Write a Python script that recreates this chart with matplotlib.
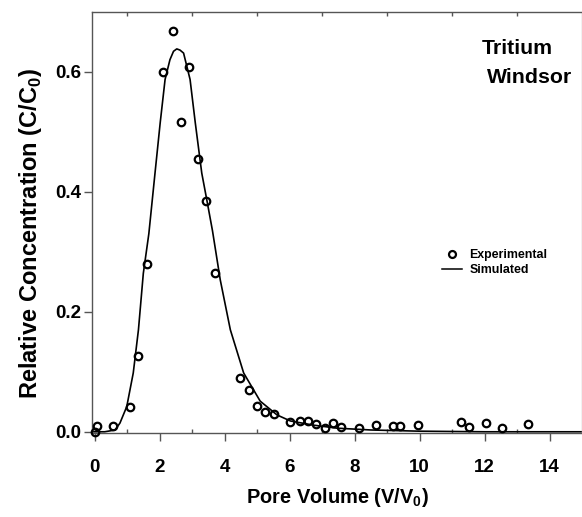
import matplotlib
matplotlib.use("Agg")
import matplotlib.pyplot as plt
from matplotlib import font_manager
from matplotlib.lines import Line2D

# experimental points
exp_x = [0.0, 0.05, 0.57, 1.08, 1.34, 1.61, 2.11, 2.39, 2.65, 2.90, 3.16, 3.43,
         3.70, 4.48, 4.73, 4.99, 5.25, 5.50, 6.02, 6.30, 6.55, 6.81, 7.08, 7.34,
         7.59, 8.13, 8.65, 9.17, 9.41, 9.94, 11.27, 11.52, 12.04, 12.55, 13.33]
exp_y = [0.0, 0.009, 0.009, 0.042, 0.127, 0.279, 0.599, 0.668, 0.516, 0.607, 0.454, 0.384,
         0.264, 0.089, 0.069, 0.043, 0.033, 0.029, 0.017, 0.018, 0.018, 0.013, 0.007, 0.015,
         0.008, 0.007, 0.011, 0.009, 0.009, 0.011, 0.016, 0.008, 0.014, 0.007, 0.013]

# simulated curve
sim_x = [-0.09, 0.3, 0.62, 0.77, 0.98, 1.18, 1.34, 1.49, 1.66, 1.85, 2.01, 2.16, 2.31,
         2.42, 2.52, 2.62, 2.73, 2.93, 3.09, 3.29, 3.45, 3.62, 3.86, 4.17, 4.58, 5.09,
         5.61, 6.02, 6.74, 7.46, 8.5, 10.0, 12.0, 15.0]
sim_y = [0.0, 0.0, 0.003, 0.0145, 0.042, 0.098, 0.170, 0.264, 0.330, 0.431, 0.515, 0.587, 0.620,
         0.634, 0.638, 0.636, 0.631, 0.587, 0.515, 0.431, 0.385, 0.335, 0.253, 0.170, 0.098, 0.051,
         0.028, 0.018, 0.011, 0.006, 0.003, 0.001, 0.0, 0.0]

x_ticks = [0, 2, 4, 6, 8, 10, 12, 14]
x_minor = [1, 3, 5, 7, 9, 11, 13]
y_ticks = [0.0, 0.2, 0.4, 0.6]

try:
    font_manager.findfont("Liberation Sans Narrow", fallback_to_default=False)
    narrow = "Liberation Sans Narrow"
    k = 1.0
except ValueError:
    narrow = "Liberation Sans"
    k = 0.85
plt.rcParams["font.family"] = ["Liberation Sans", "DejaVu Sans"]
plt.rcParams["mathtext.fontset"] = "custom"
plt.rcParams["mathtext.bf"] = narrow + ":bold"
plt.rcParams["mathtext.rm"] = narrow

fig = plt.figure(figsize=(5.82, 5.17), dpi=100)
ax = fig.add_axes([0.1581, 0.1625, 0.8419, 0.8149])

ax.plot(sim_x, sim_y, color="black", lw=1.2, zorder=2)
ax.plot(exp_x, exp_y, "o", ms=5.4, mfc="none", mec="black", mew=1.6, clip_on=False, zorder=3)

ax.set_xlim(-0.09, 15)
ax.set_ylim(-0.002, 0.7)
ax.set_xticks(x_ticks)
ax.set_xticks(x_minor, minor=True)
ax.set_yticks(y_ticks)
ax.set_yticklabels([f"{v:.1f}" for v in y_ticks])

ax.tick_params(which="major", direction="out", length=6, width=1, color="#555555",
               labelsize=13.5, top=False, right=False)
ax.tick_params(axis="x", which="major", pad=13)
ax.tick_params(axis="y", which="major", pad=2)
ax.tick_params(which="minor", direction="in", length=3, width=1, color="#555555",
               top=True, bottom=True, left=False, right=False)
for lab in ax.get_xticklabels() + ax.get_yticklabels():
    lab.set_fontweight("bold")

for side, col in [("left", "#555555"), ("bottom", "#555555"), ("top", "#555555"), ("right", "#bbbbbb")]:
    ax.spines[side].set_color(col)
    ax.spines[side].set_linewidth(1)

ax.set_xlabel(r"Pore Volume (V/V$_\mathbf{0}$)", fontsize=17 * k, fontweight="bold",
              family=narrow, labelpad=7)
ax.set_ylabel(r"Relative Concentration (C/C$_\mathbf{0}$)", fontsize=17, fontweight="bold",
              labelpad=8, y=0.475)

fig.text(482 / 582, 1 - 54 / 517, "Tritium", fontsize=18 * k, fontweight="bold",
         family=narrow, va="baseline", ha="left")
fig.text(487 / 582, 1 - 83 / 517, "Windsor", fontsize=18 * k, fontweight="bold",
         family=narrow, va="baseline", ha="left")

handles = [Line2D([], [], ls="none", marker="o", ms=5.0, mfc="none", mec="black", mew=1.6),
           Line2D([], [], color="black", lw=1.1)]
ax.legend(handles, ["Experimental", "Simulated"], loc="upper left",
          bbox_to_anchor=(0.714, 0.437), frameon=False, borderpad=0, borderaxespad=0,
          handlelength=1.66, handletextpad=0.55, labelspacing=0.25,
          prop={"family": narrow, "weight": "bold", "size": 10.5 * k})

fig.savefig("out.png", dpi=100)
